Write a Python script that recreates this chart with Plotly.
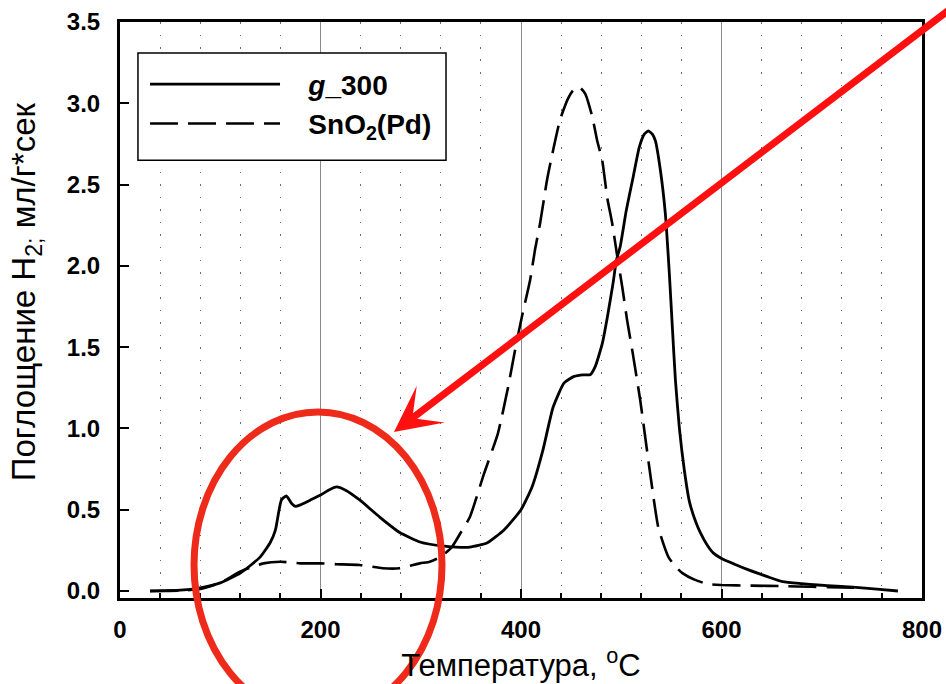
import plotly.graph_objects as go

# ---- data ----
g300_t = [30, 60, 80, 100, 120, 140, 150, 155, 161, 166, 171, 175, 180, 190, 200, 208, 216, 225,
          239, 259, 279, 300, 321, 335, 349, 366, 383, 400, 411, 422, 432, 443, 453, 462, 469, 474,
          481, 486, 492, 495, 499, 505, 512, 518, 523, 527, 531, 534, 539, 544, 548, 551, 554, 558,
          563, 568, 574, 579, 586, 592, 600, 613, 627, 645, 661, 680, 696, 715, 731, 755, 776]
g300_h = [0.00, 0.005, 0.02, 0.05, 0.11, 0.21, 0.30, 0.375, 0.56, 0.585, 0.54, 0.52, 0.53, 0.56, 0.59,
          0.62, 0.64, 0.62, 0.56, 0.455, 0.36, 0.30, 0.277, 0.27, 0.27, 0.295, 0.375, 0.50, 0.64, 0.87,
          1.13, 1.28, 1.32, 1.33, 1.33, 1.38, 1.52, 1.68, 1.90, 2.03, 2.12, 2.34, 2.55, 2.73, 2.81, 2.83,
          2.81, 2.77, 2.59, 2.32, 1.95, 1.62, 1.30, 1.00, 0.74, 0.55, 0.43, 0.357, 0.28, 0.233, 0.20,
          0.165, 0.13, 0.09, 0.057, 0.045, 0.037, 0.03, 0.024, 0.012, 0.00]

sno2_t = [30, 60, 80, 100, 120, 143, 160, 180, 200, 216, 239, 262, 279, 299, 309, 320, 331, 340, 349,
          363, 377, 387, 394, 401, 409, 414, 419, 426, 432, 439, 447, 452, 458, 464, 471, 476,
          481, 486, 491, 496, 501, 506, 511, 519, 528, 537, 547, 554, 561, 573, 586, 600, 630, 661,
          690, 707, 740]
sno2_h = [0.00, 0.003, 0.012, 0.05, 0.12, 0.17, 0.18, 0.17, 0.17, 0.165, 0.16, 0.14, 0.14, 0.17, 0.18,
          0.21, 0.27, 0.36, 0.455, 0.72, 0.97, 1.25, 1.48, 1.69, 1.91, 2.10, 2.26, 2.53, 2.71, 2.90,
          3.03, 3.08, 3.10, 3.06, 2.92, 2.77, 2.65, 2.42, 2.26, 2.06, 1.87, 1.66, 1.48, 1.17,
          0.76, 0.39, 0.21, 0.15, 0.11, 0.07, 0.043, 0.037, 0.033, 0.03, 0.026, 0.024, 0.02]

series_names = ["<i>g</i>_300", "SnO<sub>2</sub>(Pd)"]
x_ticks = [0, 200, 400, 600, 800]
y_ticks = [0.0, 0.5, 1.0, 1.5, 2.0, 2.5, 3.0, 3.5]
x_title = "Температура, <sup>o</sup>C"
y_title = "Поглощение H<sub>2;</sub> мл/г*сек"

FONT = "Liberation Sans, Arial, sans-serif"
PAD = "\u00a0\u00a0\u00a0"

fig = go.Figure()
fig.add_trace(go.Scatter(x=g300_t, y=g300_h, mode="lines", name=PAD + series_names[0],
                         line=dict(color="black", width=2.8, shape="spline", smoothing=0.5)))
fig.add_trace(go.Scatter(x=sno2_t, y=sno2_h, mode="lines", name=PAD + series_names[1],
                         line=dict(color="black", width=2.6, dash="28px,10px", shape="spline", smoothing=0.5)))

fig.update_layout(
    width=946, height=684,
    margin=dict(l=120, r=24, t=22, b=86),
    paper_bgcolor="white", plot_bgcolor="white",
    font=dict(family=FONT, color="black"),
    showlegend=True,
    legend=dict(x=0.0312, y=0.935, xanchor="left", yanchor="top",
                bgcolor="rgba(0,0,0,0)", borderwidth=0,
                font=dict(family=FONT, size=28, color="black", weight="bold"),
                itemwidth=130),
    xaxis=dict(range=[0, 800], tickvals=x_ticks, ticktext=[str(v) for v in x_ticks],
               automargin=False,
               showline=True, linecolor="black", linewidth=3, mirror=True,
               ticks="inside", ticklen=9, tickwidth=1.5, tickcolor="black",
               showgrid=True, gridcolor="#8a8a8a", gridwidth=1, zeroline=False,
               minor=dict(dtick=40, tick0=0, showgrid=True, gridcolor="#6a6a6a", gridwidth=1,
                          griddash="1.5px,11px", ticks="inside", ticklen=5, tickcolor="black"),
               tickfont=dict(family=FONT, size=24, color="black", weight="bold"),
               ticklabelstandoff=8,
               title=dict(text=x_title, font=dict(family=FONT, size=31, color="black"), standoff=6)),
    yaxis=dict(range=[-0.043, 3.5], tickvals=y_ticks, ticktext=[f"{v:.1f}" for v in y_ticks],
               automargin=False,
               showline=True, linecolor="black", linewidth=3, mirror=True,
               ticks="inside", ticklen=9, tickwidth=1.5, tickcolor="black",
               showgrid=False, zeroline=False,
               tickfont=dict(family=FONT, size=24, color="black", weight="bold"),
               ticklabelstandoff=12),
)

# y-axis title placed as in the reference (slightly above the axis centre)
fig.add_annotation(text=y_title, textangle=-90, xref="paper", yref="paper",
                   x=-0.117, y=0.531, xanchor="center", yanchor="middle", showarrow=False,
                   font=dict(family=FONT, size=33, color="black"))

# legend frame (white box covering grid, like the reference)
fig.add_shape(type="rect", xref="paper", yref="paper",
              x0=0.0224, x1=0.4065, y0=0.760, y1=0.946,
              line=dict(color="black", width=1.5), fillcolor="white", layer="above")

# red ellipse highlight and arrow (decorations)
fig.add_shape(type="circle", xref="paper", yref="paper",
              x0=0.0923, x1=0.4015, y0=-0.2083, y1=0.3229,
              line=dict(color="#ee2a1b", width=7), layer="above")
fig.add_annotation(x=0.3416, y=0.288, xref="x domain", yref="y domain", text="",
                   showarrow=True, ax=1.047, ay=1.035, axref="x domain", ayref="y domain",
                   arrowhead=3, arrowsize=1.1, arrowwidth=7, arrowcolor="#ff1010", standoff=0)

fig.write_html("out.html")
